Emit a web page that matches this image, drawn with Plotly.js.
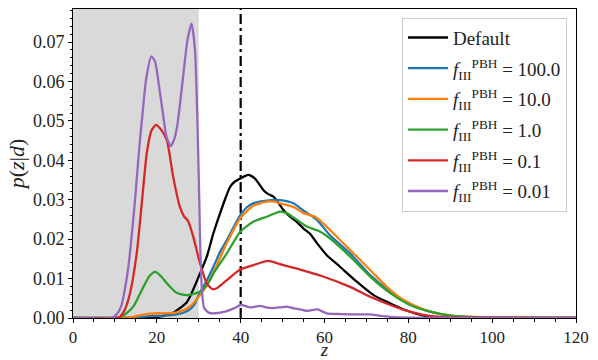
<!DOCTYPE html>
<html>
<head>
<meta charset="utf-8">
<script src="https://cdn.plot.ly/plotly-3.0.1.min.js"></script>
<style>html,body{margin:0;padding:0;background:#fff;}#chart{width:598px;height:360px;}</style>
</head>
<body>
<div id="chart"></div>
<script>
// Reference markers
const shadedRange = [0, 30];
const zRef = [40];

// Default
const zDefault = [0, 15, 19, 22.4, 24, 25.5, 27, 27.9, 29, 30.3, 31.9, 33.5, 35.1, 36.3, 37.5, 38.7, 39.9, 41, 41.8, 42.6, 43.4, 44.4, 45.4, 46.5, 47.8, 49, 50.2, 51.8, 53.4, 55, 56.6, 58.2, 60.5, 63.7, 67.7, 71.7, 75.7, 79.6, 83.6, 88, 95, 120];
const pDefault = [0, 0, 0.0001, 0.0008, 0.0014, 0.0025, 0.0038, 0.0054, 0.008, 0.0113, 0.0155, 0.0215, 0.0266, 0.0302, 0.0333, 0.0347, 0.0354, 0.036, 0.0363, 0.036, 0.0354, 0.034, 0.0325, 0.0315, 0.0308, 0.0292, 0.0274, 0.0257, 0.0244, 0.0227, 0.0213, 0.019, 0.016, 0.013, 0.0092, 0.0058, 0.0037, 0.0019, 0.0006, 0.0001, 0, 0];

// f = 100.0
const z100 = [0, 12, 15, 18.4, 22, 24.7, 26.5, 27.9, 29, 30.3, 31.9, 33.5, 35.1, 36.7, 38.3, 39.9, 41.5, 43, 46.2, 49.4, 52.6, 55, 56.5, 58.2, 61.3, 66.1, 70.9, 75.7, 80.4, 85.2, 90, 96, 105, 120];
const p100 = [0, 0, 0.0002, 0.0005, 0.0006, 0.0009, 0.0014, 0.0022, 0.0035, 0.0065, 0.0095, 0.013, 0.0168, 0.0198, 0.023, 0.0261, 0.0281, 0.0291, 0.0298, 0.0299, 0.0291, 0.0272, 0.0262, 0.0249, 0.021, 0.0164, 0.0109, 0.0067, 0.0035, 0.0016, 0.0006, 0.0002, 0.00005, 0];

// f = 10.0
const z10 = [0, 12, 14.4, 16.5, 18.4, 20.5, 22.4, 24, 25.5, 27, 28, 30.3, 32.7, 33.5, 36.7, 39.9, 43, 46.2, 48, 49.4, 52.6, 55, 56.5, 57.8, 59.7, 63.7, 67.7, 71.7, 75.7, 79.6, 83.6, 87.6, 91.5, 100, 110, 120];
const p10 = [0, 0, 0.0003, 0.0008, 0.0011, 0.0012, 0.0012, 0.0013, 0.0017, 0.0023, 0.003, 0.0058, 0.0096, 0.0115, 0.019, 0.0253, 0.0285, 0.0295, 0.0295, 0.0291, 0.0282, 0.0266, 0.0261, 0.0257, 0.024, 0.0198, 0.0156, 0.0113, 0.0071, 0.0041, 0.0022, 0.001, 0.0005, 0.0002, 0.00005, 0];

// f = 1.0
const z1 = [0, 11, 12.5, 14.4, 16.8, 18.3, 19.6, 21, 22.4, 24.7, 27.1, 29, 30.5, 32, 33.5, 36.7, 39.9, 43, 46.2, 49.4, 51, 52.6, 55.8, 59, 61.3, 66.1, 70.9, 75.7, 80.4, 85.2, 90, 96, 105, 120];
const p1 = [0, 0, 0.001, 0.0029, 0.0079, 0.0107, 0.0117, 0.0106, 0.0088, 0.0064, 0.0058, 0.0062, 0.0068, 0.0085, 0.0113, 0.0164, 0.0219, 0.0244, 0.0257, 0.027, 0.0266, 0.0255, 0.0232, 0.0219, 0.0202, 0.0156, 0.0105, 0.0063, 0.0033, 0.0016, 0.0006, 0.0002, 0.00005, 0];

// f = 0.1
const z01 = [0, 10.5, 11.2, 12.3, 13.6, 15.2, 16.4, 17.6, 18.7, 19.8, 21, 22.4, 23.9, 25.5, 26.5, 27.5, 28.7, 30.3, 31.9, 33.3, 34.5, 36.7, 39.9, 43, 46.6, 50.2, 54.2, 59.5, 66.1, 70.9, 75.7, 80.4, 83.6, 87.6, 95, 120];
const p01 = [0, 0, 0.0003, 0.002, 0.0063, 0.0164, 0.029, 0.0418, 0.0475, 0.049, 0.0478, 0.0451, 0.0358, 0.0282, 0.0258, 0.0245, 0.0206, 0.0139, 0.0088, 0.0073, 0.0077, 0.0096, 0.0123, 0.0134, 0.0145, 0.0134, 0.0123, 0.0106, 0.0079, 0.0054, 0.0033, 0.0016, 0.0008, 0.0003, 0.0001, 0];

// f = 0.01
const z001 = [0, 9.2, 10.5, 11.5, 12.8, 13.6, 14.8, 15.8, 16.6, 17.5, 18.7, 19.6, 20.5, 21.5, 22.3, 23.3, 24.2, 24.9, 25.6, 26.4, 27.3, 28.3, 29.1, 29.5, 29.8, 30.1, 30.4, 30.8, 31.3, 32.5, 34, 36.5, 38.5, 40, 41, 42.2, 43.5, 44.6, 46, 47.5, 49.5, 51, 52.5, 54.5, 56, 58.3, 60.5, 64, 67.7, 70.9, 73, 75.7, 80, 90, 120];
const p001 = [0, 0, 0.001, 0.003, 0.01, 0.0165, 0.03, 0.043, 0.052, 0.061, 0.0664, 0.065, 0.059, 0.0515, 0.046, 0.0436, 0.0455, 0.049, 0.055, 0.0625, 0.0705, 0.0747, 0.068, 0.057, 0.045, 0.031, 0.016, 0.0065, 0.0025, 0.0013, 0.0012, 0.0017, 0.0025, 0.0033, 0.0031, 0.0027, 0.0029, 0.0031, 0.0027, 0.0025, 0.0027, 0.0029, 0.0025, 0.0021, 0.0018, 0.0022, 0.0012, 0.001, 0.0009, 0.0009, 0.0006, 0.0003, 0.0001, 0, 0];

const names = ['Default',
  '<i>f</i><sub>III</sub><sup>PBH</sup> = 100.0',
  '<i>f</i><sub>III</sub><sup>PBH</sup> = 10.0',
  '<i>f</i><sub>III</sub><sup>PBH</sup> = 1.0',
  '<i>f</i><sub>III</sub><sup>PBH</sup> = 0.1',
  '<i>f</i><sub>III</sub><sup>PBH</sup> = 0.01'];
const colors = ['#000000', '#1f77b4', '#ff7f0e', '#2ca02c', '#d62728', '#9467bd'];
const xs = [zDefault, z100, z10, z1, z01, z001];
const ys = [pDefault, p100, p10, p1, p01, p001];

const xTicks = [0, 20, 40, 60, 80, 100, 120];
const yTicks = [0, 0.01, 0.02, 0.03, 0.04, 0.05, 0.06, 0.07];

const traces = xs.map((x, i) => ({
  x: x, y: ys[i], type: 'scatter', mode: 'lines', name: names[i], legendgroup: 'g' + i,
  line: {color: colors[i], width: 2.3, shape: 'spline', smoothing: 0.6},
  hoverinfo: 'skip'
}));

const font = "'Liberation Serif', 'DejaVu Serif', serif";
const layout = {
  width: 598, height: 360,
  margin: {l: 73, r: 22, t: 9, b: 42},
  paper_bgcolor: '#ffffff', plot_bgcolor: '#ffffff',
  font: {family: font, size: 18, color: '#222'},
  showlegend: true,
  legend: {x: 0.982, xanchor: 'right', y: 0.972, yanchor: 'top',
    bgcolor: 'rgba(255,255,255,0.85)', bordercolor: '#cccccc', borderwidth: 1,
    font: {family: font, size: 19, color: '#222'}, tracegroupgap: 3, itemwidth: 40},
  xaxis: {range: [0, 120], tickvals: xTicks, ticktext: xTicks.map(String),
    ticks: 'outside', ticklen: 3.5, tickwidth: 1, tickcolor: '#000',
    showline: true, linecolor: '#000', linewidth: 1, mirror: true,
    showgrid: false, zeroline: false,
    minor: {dtick: 5, tick0: 0, ticks: 'outside', ticklen: 2.5, tickwidth: 1, tickcolor: '#000', showgrid: false},
    tickfont: {family: font, size: 17, color: '#222'},
    title: {text: '<i>z</i>', font: {family: font, size: 19, color: '#222'}, standoff: 9}},
  yaxis: {range: [0, 0.0784], tickvals: yTicks, ticktext: yTicks.map(v => v.toFixed(2)),
    ticks: 'outside', ticklen: 4, tickwidth: 1, tickcolor: '#000',
    showline: true, linecolor: '#000', linewidth: 1, mirror: true,
    showgrid: false, zeroline: false,
    minor: {dtick: 0.002, tick0: 0, ticks: 'outside', ticklen: 2.5, tickwidth: 1, tickcolor: '#000', showgrid: false},
    tickfont: {family: font, size: 18, color: '#222'},
    title: {text: '<i>p</i>(<i>z</i>|<i>d</i>)', font: {family: font, size: 22, color: '#222'}, standoff: 2}},
  shapes: [
    {type: 'rect', xref: 'x', yref: 'paper', x0: shadedRange[0], x1: shadedRange[1], y0: 0, y1: 1,
      fillcolor: '#d9d9d9', line: {width: 0}, layer: 'below'},
    {type: 'line', xref: 'x', yref: 'paper', x0: zRef[0], x1: zRef[0], y0: 0, y1: 1,
      line: {color: '#000', width: 2.2, dash: '10px,4px,3px,4px'}, layer: 'below'}
  ]
};

Plotly.newPlot('chart', traces, layout, {displayModeBar: false, staticPlot: true});
</script>
</body>
</html>
